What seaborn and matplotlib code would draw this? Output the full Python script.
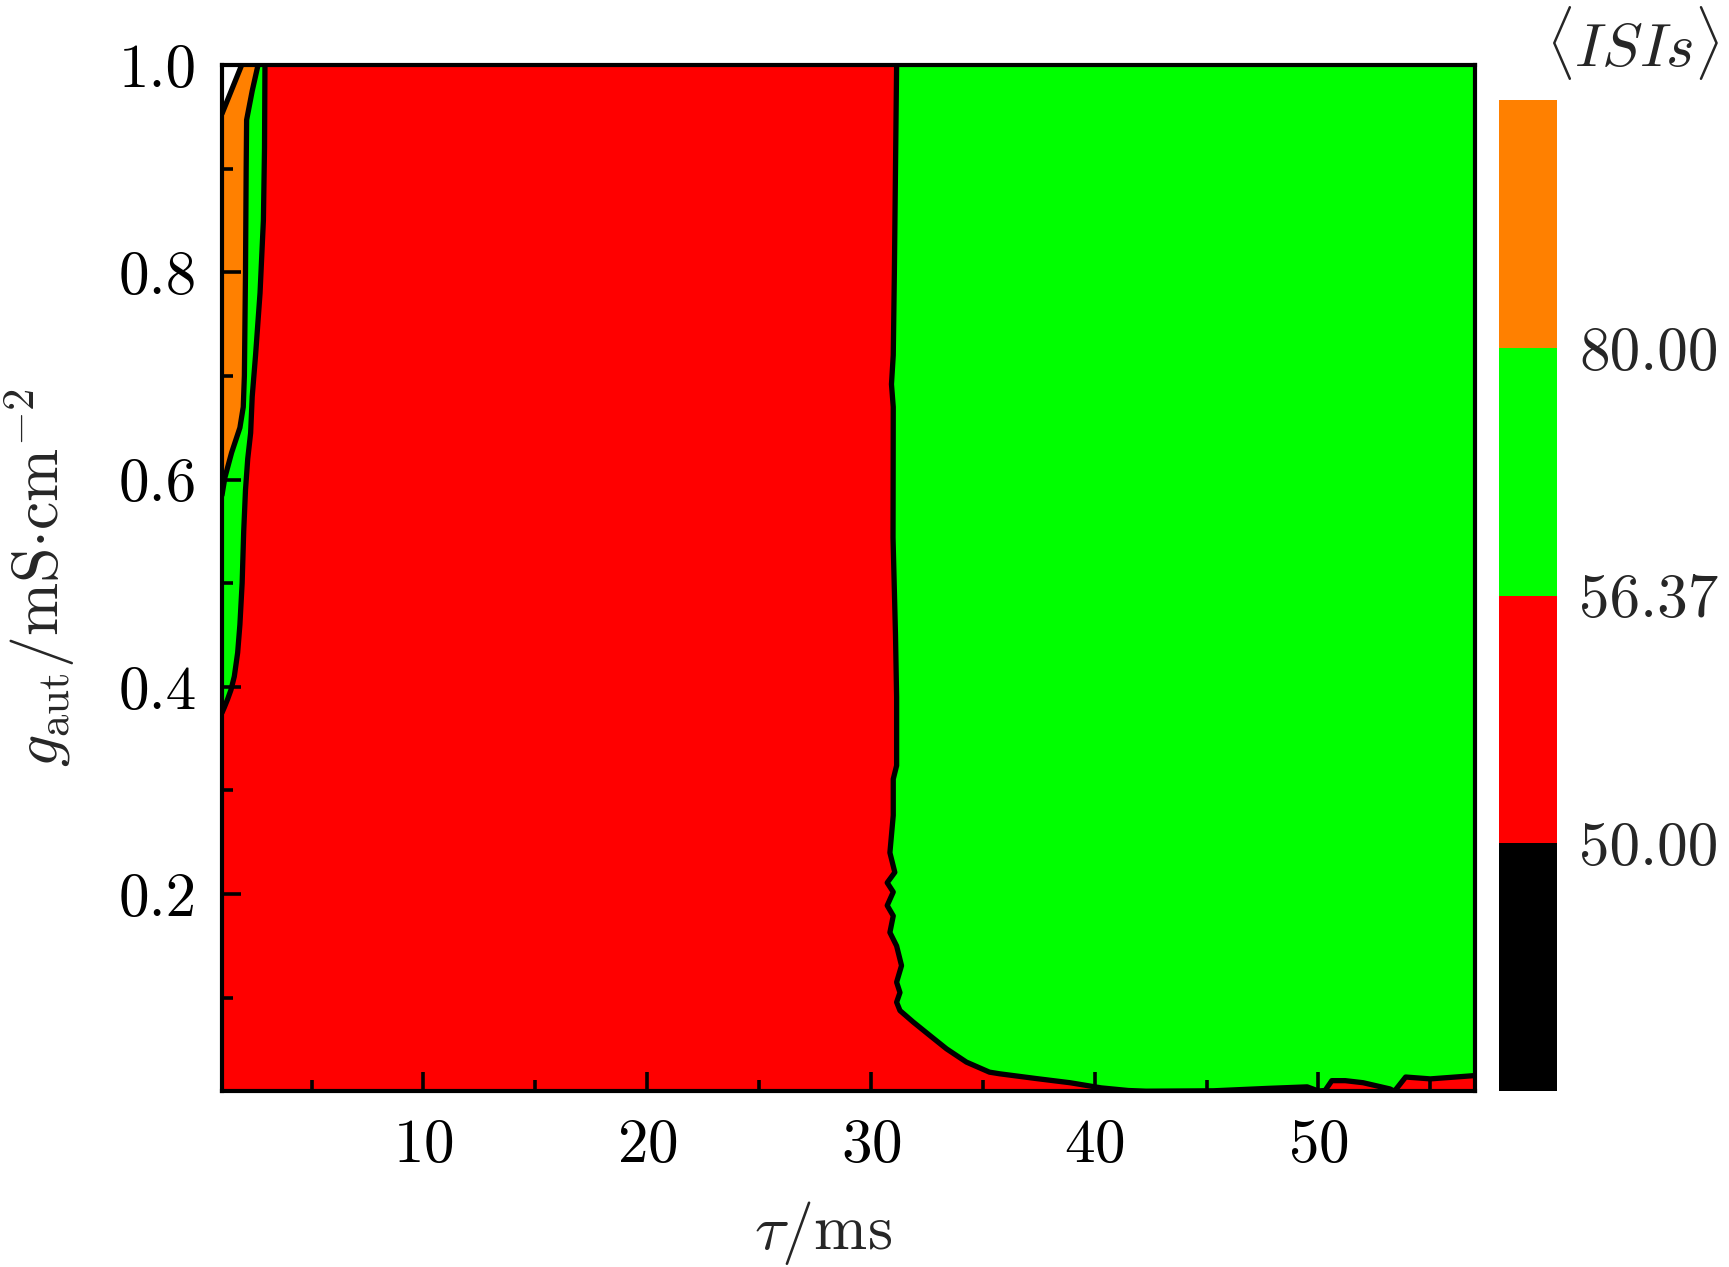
import numpy as np
import matplotlib.pyplot as plt
import seaborn as sns
from matplotlib.colors import ListedColormap, BoundaryNorm
from matplotlib.cm import ScalarMappable
from matplotlib.ticker import MultipleLocator, FormatStrFormatter

# <ISIs> contour levels and fill colours (below 50, 50-56.37, 56.37-80, above 80)
isi_levels = [50.00, 56.37, 80.00]
level_colors = ['#000000', '#ff0000', '#00ff00', '#ff8000']

tau_range = [1.0, 57.0]
g_range = [0.01, 1.0]

# white corner (no spiking) at top-left
white_tau = [1.0, 1.88, 1.0]
white_g = [1.0, 1.0, 0.953]

# orange / green border (80.00 level), top to bottom
og_tau = [2.61, 2.35, 2.10, 2.08, 2.05, 2.00, 1.95, 1.80, 1.43, 1.13, 1.0]
og_g = [1.0, 0.975, 0.947, 0.90, 0.80, 0.70, 0.67, 0.65, 0.626, 0.602, 0.585]

# left green strip / red border (56.37 level), top to bottom
lg_tau = [2.92, 2.90, 2.85, 2.70, 2.50, 2.35, 2.28, 2.15, 2.05, 1.97, 1.90,
          1.80, 1.70, 1.55, 1.40, 1.25, 1.10, 1.0]
lg_g = [1.0, 0.92, 0.85, 0.78, 0.72, 0.68, 0.645, 0.62, 0.59, 0.55, 0.50,
        0.46, 0.433, 0.41, 0.397, 0.388, 0.38, 0.375]

# big green block / red border, vertical part (top to bottom)
rg_tau = [31.15, 31.10, 31.05, 31.0, 30.92, 31.0, 30.99, 31.1, 31.15, 31.15,
          31.0, 31.0, 30.85, 31.07, 30.73, 31.0, 30.73, 31.0, 30.85, 31.15,
          31.37, 31.15, 31.3, 31.15, 31.3]
rg_g = [1.0, 0.90, 0.80, 0.72, 0.692, 0.67, 0.544, 0.45, 0.39, 0.324,
        0.311, 0.276, 0.240, 0.221, 0.211, 0.202, 0.189, 0.179, 0.163, 0.150,
        0.131, 0.115, 0.105, 0.0957, 0.0876]

# big green block / red border, bottom part (left to right)
bot_tau = [31.9, 32.64, 33.38, 34.27, 35.3, 35.76, 37.4, 38.9, 40.3, 41.5,
           42.3, 45.3, 47.7, 49.5, 50.0, 50.3, 50.6, 51.2, 52.0, 53.2, 53.4,
           53.9, 55.0, 57.0]
bot_g = [0.0764, 0.0635, 0.0507, 0.0379, 0.0282, 0.0266, 0.022, 0.018, 0.013,
         0.0105, 0.0098, 0.0102, 0.0125, 0.0140, 0.0100, 0.0105, 0.020, 0.020,
         0.018, 0.0120, 0.0098, 0.0235, 0.0217, 0.0249]

sns.set_style("ticks")
plt.rcParams['font.family'] = ['serif']
plt.rcParams['font.serif'] = ['cmr10', 'DejaVu Serif']
plt.rcParams['mathtext.fontset'] = 'cm'
plt.rcParams['axes.formatter.use_mathtext'] = True

fig = plt.figure(figsize=(8.645, 6.335), dpi=200)
ax = fig.add_axes([0.1284, 0.1389, 0.7247, 0.8098])
ax.set_axisbelow(False)

red, green, orange = level_colors[1], level_colors[2], level_colors[3]

# red background over the whole (tau, g) plane
ax.fill([tau_range[0], tau_range[1], tau_range[1], tau_range[0]],
        [g_range[0], g_range[0], g_range[1], g_range[1]], color=red, lw=0)

# big green block
ax.fill(rg_tau + bot_tau + [tau_range[1]], rg_g + bot_g + [g_range[1]],
        color=green, lw=0)

# left green strip
ax.fill(lg_tau + og_tau[::-1], lg_g + og_g[::-1], color=green, lw=0)

# orange strip
ax.fill(og_tau + white_tau[::-1][:2], og_g + white_g[::-1][:2], color=orange, lw=0)

# white corner
ax.fill(white_tau, white_g, color='white', lw=0)

# contour lines
lw = 1.9
sns.lineplot(x=og_tau, y=og_g, sort=False, estimator=None, color='k', lw=lw, ax=ax)
sns.lineplot(x=lg_tau, y=lg_g, sort=False, estimator=None, color='k', lw=lw, ax=ax)
sns.lineplot(x=rg_tau + bot_tau, y=rg_g + bot_g, sort=False, estimator=None,
             color='k', lw=lw, ax=ax)
sns.lineplot(x=white_tau[1:], y=white_g[1:], sort=False, estimator=None,
             color='k', lw=lw, ax=ax)

ax.set_xlim(tau_range)
ax.set_ylim(g_range)
ax.xaxis.set_major_locator(MultipleLocator(10))
ax.xaxis.set_minor_locator(MultipleLocator(5))
ax.yaxis.set_major_locator(MultipleLocator(0.2))
ax.yaxis.set_minor_locator(MultipleLocator(0.1))
ax.yaxis.set_major_formatter(FormatStrFormatter('%.1f'))
ax.tick_params(which='both', direction='in', top=False, right=False,
               colors='k', width=1.3, labelsize=22)
ax.tick_params(axis='x', which='major', length=7, pad=10)
ax.tick_params(axis='y', which='major', length=7, pad=9)
ax.tick_params(which='minor', length=4)
for sp in ax.spines.values():
    sp.set_linewidth(1.5)
    sp.set_color('k')
    sp.set_zorder(5)

ax.set_xlabel(r'$\tau/{\rm ms}$', fontsize=23, labelpad=9)
ax.xaxis.label.set_x(0.48)
ax.set_ylabel(r'$g_{\rm aut}/{\rm mS{\cdot}cm}^{-2}$', fontsize=23, labelpad=15)

# colorbar
cax = fig.add_axes([0.867, 0.1389, 0.0335, 0.782])
bounds = [40.0] + isi_levels + [100.0]
cmap = ListedColormap(level_colors)
norm = BoundaryNorm(bounds, cmap.N)
sm = ScalarMappable(norm=norm, cmap=cmap)
cb = fig.colorbar(sm, cax=cax, ticks=isi_levels, spacing='uniform')
cb.outline.set_visible(False)
cb.ax.yaxis.set_major_formatter(FormatStrFormatter('%.2f'))
cb.ax.tick_params(length=0, labelsize=22, pad=8)
cb.ax.minorticks_off()

fig.text(0.944, 0.966, r'$\langle ISIs\rangle$', ha='center', va='center', fontsize=22)

fig.savefig('out.png', dpi=200)
